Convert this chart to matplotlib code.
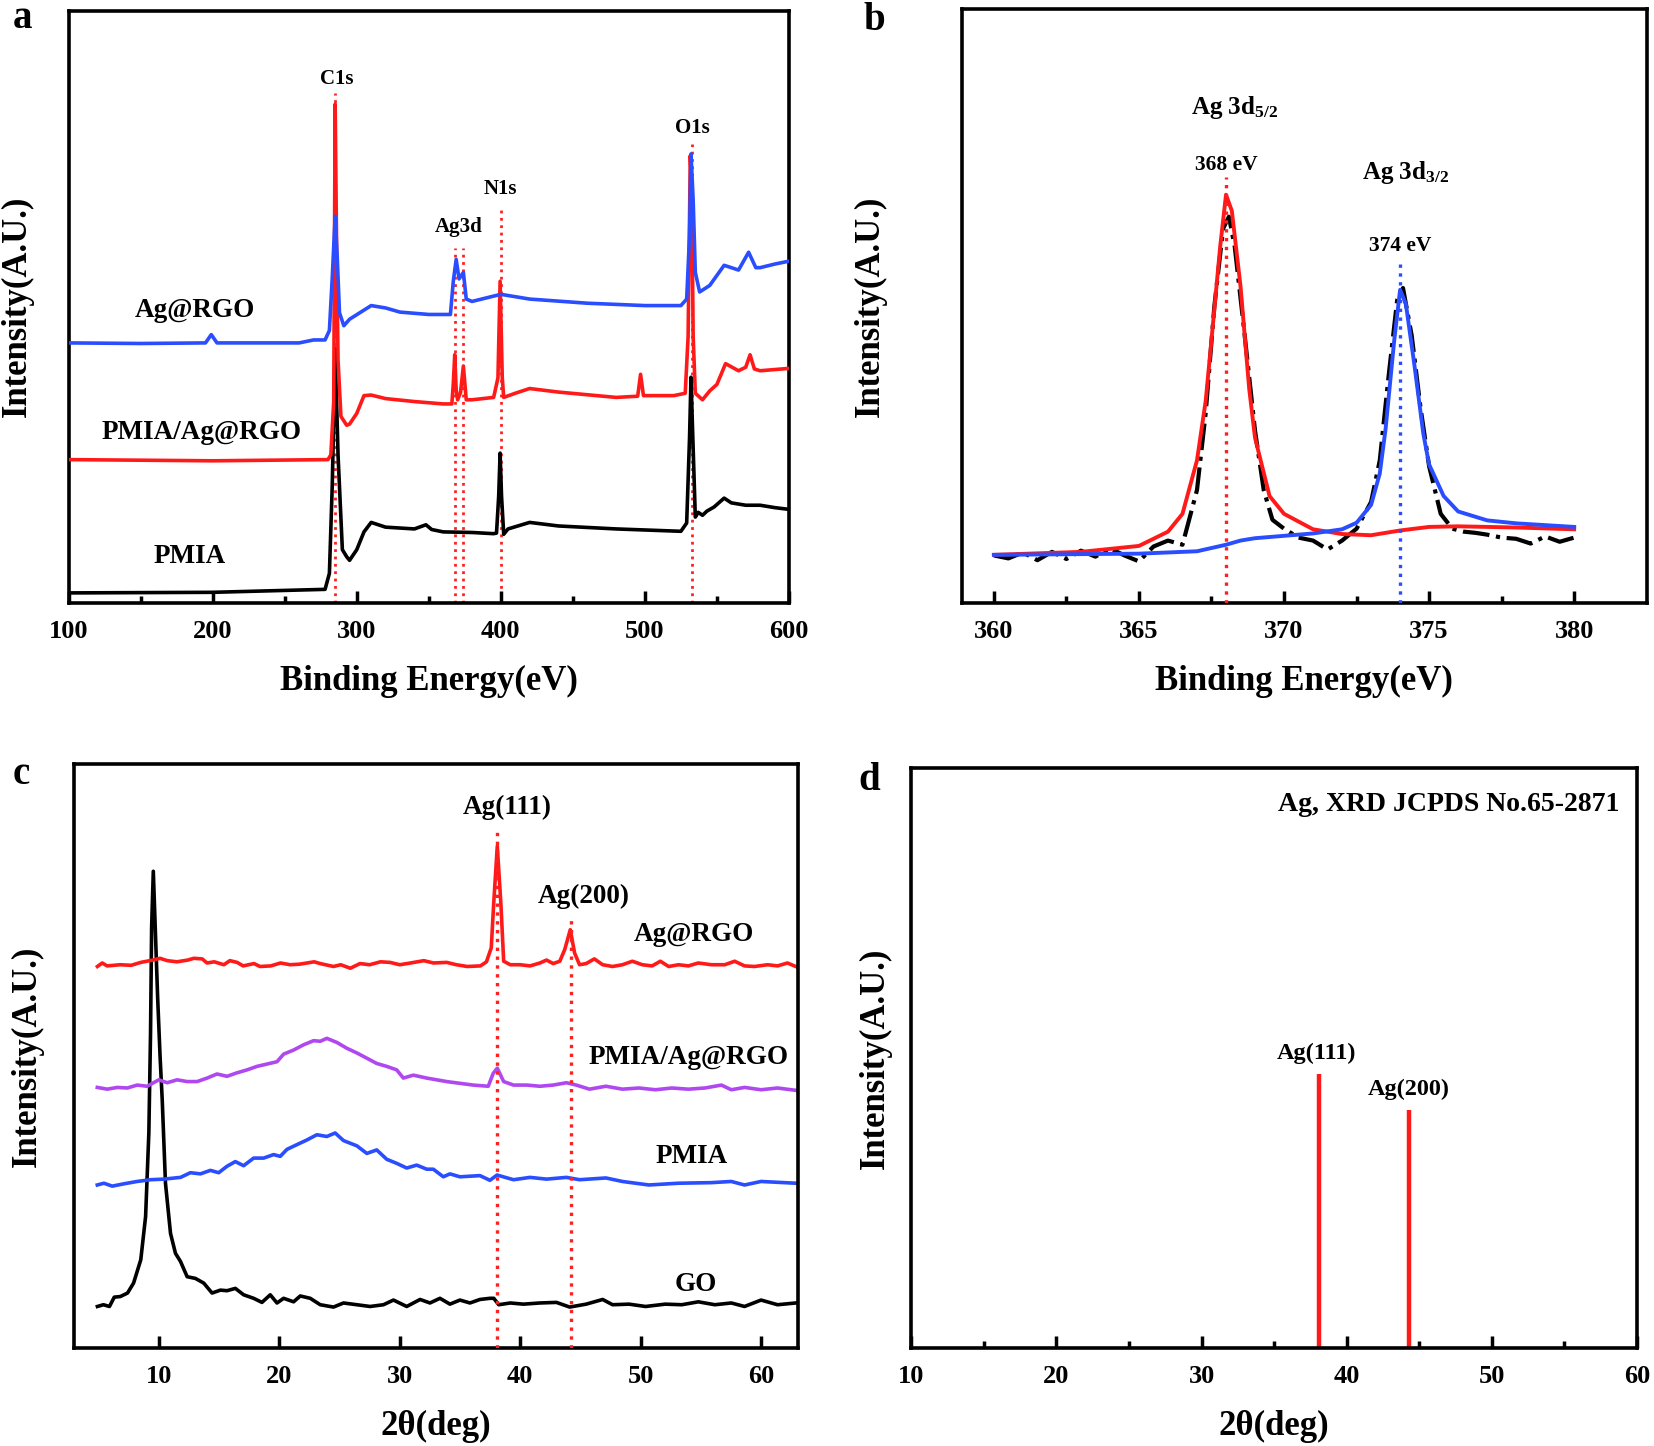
import matplotlib
matplotlib.use("Agg")
import matplotlib.pyplot as plt
from matplotlib.ticker import FixedLocator, NullFormatter

plt.rcParams['font.family'] = ['Liberation Serif', 'DejaVu Serif']
plt.rcParams['font.weight'] = 'bold'
plt.rcParams['mathtext.default'] = 'regular'

# ---- panel a: XPS survey (y in % of axis height) ----
a_pmia_x = [100, 200, 278, 281, 283, 285, 287, 290, 293, 295, 300, 305, 310, 320, 340, 348, 352, 360, 380, 395,
            397, 398.5, 399.5, 400.5, 402, 405, 420, 440, 480, 525, 529, 531, 532, 533, 535, 537, 540, 543, 548,
            555, 560, 570, 580, 590, 600]
a_pmia_y = [1.7, 1.8, 2.3, 5, 20, 43, 25, 9, 7.8, 7.2, 9, 12, 13.6, 12.8, 12.5, 13.2, 12.4, 12.0, 11.9, 11.7,
            11.8, 18, 25.3, 18, 11.6, 12.5, 13.6, 13.0, 12.5, 12.1, 13.5, 28, 38.1, 30, 14.5, 15.3, 14.8, 15.5, 16.2,
            17.7, 16.9, 16.5, 16.5, 16.1, 15.8]
a_mix_x = [100, 200, 280, 282, 284, 285, 286, 287, 289, 293, 295, 300, 305, 310, 320, 340, 360, 366, 367, 368,
           369, 370, 372, 374, 376, 380, 395, 398, 399.5, 401, 402, 410, 420, 440, 480, 495, 497, 499, 520, 528,
           530, 531.5, 532.5, 533.5, 535, 540, 545, 550, 556, 565, 570, 573, 576, 580, 600]
a_mix_y = [24.2, 24.0, 24.2, 25, 34, 84.2, 60, 41, 31.5, 30.0, 30.2, 32, 35, 35.1, 34.5, 34.0, 33.6, 33.6, 37, 41.9,
           36, 34.3, 35.5, 40, 34.3, 34.3, 34.7, 38, 54.3, 38, 34.7, 35.4, 36.2, 35.6, 34.7, 34.9, 38.6, 35, 35.0, 35.4,
           45, 75.5, 70, 45, 35.4, 34.3, 35.8, 36.9, 40.4, 39.2, 39.8, 41.9, 39.5, 39.2, 39.6]
a_rgo_x = [100, 150, 195, 199, 203, 260, 270, 278, 281, 283, 285, 286.5, 288, 291, 295, 310, 320, 330, 350, 365,
           367, 369, 371, 374, 376, 380, 400, 420, 460, 500, 525, 529, 531, 532, 533.5, 535, 538, 545, 555, 565,
           572, 577, 580, 590, 600]
a_rgo_y = [43.9, 43.8, 43.9, 45.3, 43.9, 43.9, 44.4, 44.4, 46.0, 55, 65.3, 58, 49, 46.8, 47.9, 50.2, 49.8, 49.1, 48.7, 48.7,
           54.3, 58.0, 54.7, 55.8, 51.3, 50.9, 52.1, 51.3, 50.6, 50.2, 50.2, 51.3, 62, 75.8, 68, 55.8, 52.5, 53.6, 57.0, 56.2,
           59.2, 56.6, 56.6, 57.2, 57.7]
a_guides_x = [285, 368, 374, 400, 533]
a_guides_top = [86, 60, 60, 66.8, 77.4]
a_peak_labels = ['C1s', 'Ag3d', 'N1s', 'O1s']
a_peak_label_x = [286, 371, 400, 533]
a_peak_label_y = [88.4, 63.5, 69.8, 80.2]
a_series_labels = ['Ag@RGO', 'PMIA/Ag@RGO', 'PMIA']
a_series_label_x = [188, 192, 184]
a_series_label_y = [49.3, 28.7, 7.9]

# ---- panel b: Ag 3d high resolution ----
b_raw_x = [360, 360.5, 361, 361.5, 362, 362.5, 363, 363.5, 364, 364.5, 365, 365.5, 366, 366.5, 367, 367.3, 367.6,
           367.9, 368.1, 368.3, 368.6, 369, 369.3, 369.6, 370, 370.5, 371, 371.5, 372, 372.5, 373, 373.3, 373.6,
           373.9, 374.1, 374.4, 374.7, 375, 375.4, 375.8, 376.2, 376.6, 377, 377.5, 378, 378.5, 379, 379.5, 380]
b_raw_y = [8.0, 7.5, 8.5, 7.2, 8.6, 7.4, 8.8, 7.8, 9.2, 8.0, 7.0, 9.5, 10.5, 9.8, 19, 32, 50,
           63, 65, 60, 47, 29, 19, 14, 12.5, 11, 10.5, 9.0, 10.5, 12.5, 17, 24, 38,
           51, 53, 45, 33, 23, 15, 12.5, 12, 11.8, 11.5, 11, 10.8, 10, 11.2, 10.3, 11.0]
b_fit1_x = [360, 363, 365, 366, 366.5, 367, 367.3, 367.5, 367.8, 368, 368.2, 368.5, 368.8, 369, 369.5, 370, 371,
            372, 373, 374, 375, 376, 378, 380]
b_fit1_y = [8.1, 8.6, 9.6, 12, 15, 24, 34, 44.3, 60, 68.7, 66, 53.3, 36, 27.8, 18, 15, 12.4,
            11.6, 11.4, 12.2, 12.8, 12.9, 12.7, 12.4]
b_fit2_x = [360, 365, 367, 368, 368.5, 369, 370, 371, 372, 372.5, 373, 373.3, 373.5, 373.8, 374, 374.2, 374.5,
            374.8, 375, 375.5, 376, 377, 378, 379, 380]
b_fit2_y = [8.1, 8.3, 8.7, 9.8, 10.5, 10.9, 11.3, 11.7, 12.4, 13.5, 16.5, 21.8, 29.3, 44.3, 52.7, 50.3, 39.8,
            28.5, 23.3, 18, 15.4, 13.9, 13.4, 13.1, 12.8]
b_guides_x = [368, 374]
b_guides_top = [71.7, 57]

# ---- panel c: XRD ----
c_go_x = [4.9, 5.4, 5.9, 6.3, 6.8, 7.4, 7.9, 8.5, 8.9, 9.17, 9.31, 9.4, 9.54, 9.7, 9.9, 10.1, 10.28, 10.55, 10.97,
          11.38, 11.8, 12.35, 13.04, 13.73, 14.42, 15.11, 15.66, 16.35, 17.04, 17.87, 18.56, 19.25, 19.81, 20.36,
          21.19, 21.74, 22.57, 23.4, 24.5, 25.33, 26.44, 27.54, 28.65, 29.48, 30.58, 31.69, 32.51, 33.34, 34.17,
          35.0, 35.83, 36.66, 37.49, 37.81, 38.22, 39.18, 40.27, 41.64, 43.01, 44.11, 45.48, 46.85, 47.67, 49.04,
          50.41, 52.05, 53.42, 54.79, 56.16, 57.53, 58.63, 60.0, 61.37, 62.88]
c_go_y = [7.1, 7.4, 7.1, 8.7, 8.8, 9.4, 11.1, 15.1, 22.5, 36.8, 53.9, 72, 81.6, 72, 60, 50, 42.5, 28.2, 19.6,
          16.2, 14.8, 12.2, 11.9, 11.1, 9.4, 9.9, 9.8, 10.2, 9.1, 8.5, 7.8, 9.1, 7.7, 8.5,
          7.9, 8.9, 8.5, 7.4, 7.0, 7.7, 7.4, 7.1, 7.4, 8.2, 7.1, 8.3, 7.7, 8.5, 7.5,
          8.2, 7.7, 8.3, 8.5, 8.5, 7.4, 7.7, 7.5, 7.7, 7.8, 7.0, 7.5, 8.3, 7.4, 7.5,
          7.1, 7.5, 7.4, 7.9, 7.4, 7.7, 7.1, 8.2, 7.4, 7.7]
c_pmia_x = [4.89, 5.44, 6.13, 7.1, 8.2, 9.31, 10.41, 11.8, 12.62, 13.45, 14.28, 14.97, 15.66, 16.35, 17.04, 17.87,
            18.7, 19.53, 20.08, 20.64, 21.46, 22.29, 23.12, 23.95, 24.64, 25.33, 26.44, 27.27, 28.09, 28.92, 29.75,
            30.58, 31.41, 32.24, 32.79, 33.62, 34.17, 35.0, 36.66, 37.49, 38.08, 39.45, 40.82, 42.19, 43.84, 44.93,
            47.12, 48.49, 50.68, 53.15, 55.89, 57.53, 58.63, 60.0, 62.88]
c_pmia_y = [27.9, 28.2, 27.7, 28.1, 28.5, 28.8, 28.9, 29.2, 30.0, 29.8, 30.4, 30.0, 31.1, 31.9, 31.2, 32.5,
            32.5, 33.1, 32.8, 34.0, 34.8, 35.6, 36.5, 36.2, 36.8, 35.5, 34.6, 33.3, 33.9, 32.3, 31.6,
            30.8, 31.3, 30.6, 30.6, 29.3, 29.8, 29.3, 29.5, 28.7, 29.6, 28.8, 29.2, 28.9, 29.2, 28.8,
            29.1, 28.5, 27.9, 28.2, 28.3, 28.5, 27.9, 28.5, 28.2]
c_mix_x = [4.89, 5.72, 6.55, 7.38, 8.2, 9.03, 10.0, 10.69, 11.52, 12.35, 13.18, 14.01, 14.83, 15.66, 16.49, 17.32,
           18.15, 18.98, 19.81, 20.36, 21.19, 22.02, 22.85, 23.4, 23.95, 24.78, 25.61, 26.44, 27.27, 28.09, 28.92,
           29.75, 30.3, 31.13, 32.24, 33.07, 33.9, 35.0, 36.1, 37.35, 37.76, 38.1, 38.63, 39.45, 40.55, 41.64,
           42.74, 43.84, 44.66, 45.75, 47.12, 48.49, 49.86, 51.23, 52.6, 53.97, 55.34, 56.71, 57.53, 58.63, 60.0,
           61.37, 62.88]
c_mix_y = [44.6, 44.3, 44.6, 44.5, 45.0, 44.8, 45.9, 45.4, 45.9, 45.6, 45.6, 46.2, 46.9, 46.5, 47.1, 47.6,
           48.2, 48.6, 49.0, 50.3, 51.0, 51.9, 52.6, 52.5, 53.0, 52.3, 51.3, 50.5, 49.6, 48.7, 48.2,
           47.6, 46.2, 46.7, 46.2, 45.9, 45.6, 45.3, 45.0, 44.8, 47.0, 47.9, 45.6, 45.0, 45.0, 44.8,
           45.0, 45.4, 45.0, 44.3, 44.8, 44.3, 44.5, 44.2, 44.5, 44.3, 44.5, 45.0, 44.2, 44.6, 44.2,
           44.5, 44.1]
c_rgo_x = [4.9, 5.3, 5.7, 6.8, 7.7, 8.5, 9.5, 10.1, 10.7, 11.5, 12.4, 12.9, 13.6, 14.0, 14.6, 15.4, 15.9, 16.5,
           17.0, 17.9, 18.4, 19.3, 20.1, 20.9, 21.7, 22.9, 23.4, 24.5, 25.1, 25.9, 26.7, 27.5, 28.4, 29.2, 30.0,
           30.9, 32.0, 32.8, 33.9, 34.7, 35.6, 36.7, 37.2, 37.6, 37.8, 38.1, 38.4, 38.63, 39.18, 40.0, 40.82,
           41.64, 42.19, 42.74, 43.29, 43.7, 44.16, 44.52, 44.93, 45.48, 46.16, 46.85, 47.67, 48.49, 49.32, 50.14,
           50.96, 51.64, 52.33, 53.15, 53.97, 54.79, 55.89, 56.99, 57.81, 58.63, 59.45, 60.55, 61.37, 62.19, 62.88]
c_rgo_y = [65.3, 65.9, 65.4, 65.6, 65.5, 66.0, 66.4, 66.7, 66.3, 66.1, 66.4, 66.7, 66.6, 65.9, 66.1, 65.6, 66.3, 66.0,
           65.4, 65.8, 65.3, 65.4, 65.9, 65.6, 65.7, 66.1, 65.8, 65.3, 65.6, 65.0, 65.8, 65.6, 66.1, 66.0, 65.6,
           65.9, 66.3, 65.9, 66.0, 65.6, 65.3, 65.4, 66.1, 68.5, 76, 85.9, 76, 66.2, 65.6, 65.6, 65.4,
           65.9, 66.4, 65.8, 66.2, 68.2, 71.6, 67.6, 65.6, 65.8, 66.6, 65.6, 65.3, 65.6, 66.2, 65.6,
           65.4, 66.2, 65.3, 65.6, 65.4, 65.9, 65.6, 65.6, 66.2, 65.4, 65.3, 65.6, 65.4, 65.9, 65.3]
c_guides_x = [38.1, 44.2]
c_guides_top = [89, 73.6]
c_series_labels = ['Ag@RGO', 'PMIA/Ag@RGO', 'PMIA', 'GO']
c_series_label_x = [54.4, 54.0, 54.2, 54.6]
c_series_label_y = [70.8, 49.8, 32.8, 10.8]

# ---- panel d: JCPDS reference ----
d_pos = [38.1, 44.3]
d_int = [47.2, 41.0]
d_labels = ['Ag(111)', 'Ag(200)']
d_label_x = [37.9, 44.3]
d_label_y = [50.8, 44.6]

fig = plt.figure(figsize=(16.54, 14.46), dpi=100)

def style(ax, xlim, majors, minors, xlabel, xpad, ypad):
    ax.set_xlim(*xlim)
    ax.set_ylim(0, 100)
    ax.set_yticks([])
    ax.xaxis.set_major_locator(FixedLocator(majors))
    ax.xaxis.set_minor_locator(FixedLocator(minors))
    ax.xaxis.set_minor_formatter(NullFormatter())
    ax.tick_params(axis='x', which='major', direction='in', length=9, width=2.5, labelsize=19, pad=12)
    ax.tick_params(axis='x', which='minor', direction='in', length=5, width=2.5)
    for s in ax.spines.values():
        s.set_linewidth(2.6)
    ax.set_xlabel(xlabel, fontsize=25, fontweight='bold', labelpad=xpad)
    ax.set_ylabel('Intensity(A.U.)', fontsize=25, fontweight='bold', labelpad=ypad)
    for t in ax.get_xticklabels():
        t.set_fontweight('bold')

# a
ax = fig.add_axes([0.0415, 0.583, 0.4355, 0.4097])
for gx, gt in zip(a_guides_x, a_guides_top):
    ax.plot([gx, gx], [0, gt], color='#ff2020', ls=':', lw=2, zorder=1)
ax.plot(a_pmia_x, a_pmia_y, color='black', lw=2.6, zorder=2)
ax.plot(a_mix_x, a_mix_y, color='#ff1a1a', lw=2.6, zorder=3)
ax.plot(a_rgo_x, a_rgo_y, color='#2a4dff', lw=2.6, zorder=4)
for t, x, y in zip(a_peak_labels, a_peak_label_x, a_peak_label_y):
    ax.text(x, y, t, fontsize=15, fontweight='bold', ha='center', va='center')
for t, x, y in zip(a_series_labels, a_series_label_x, a_series_label_y):
    ax.text(x, y, t, fontsize=19.5, fontweight='bold', ha='center', va='center')
style(ax, (100, 600), list(range(100, 601, 100)), list(range(150, 600, 100)), 'Binding Energy(eV)', 16, 25)

# b
ax = fig.add_axes([0.5816, 0.583, 0.414, 0.411])
ax.plot(b_raw_x, b_raw_y, color='black', lw=3, ls='-.', zorder=2)
ax.plot(b_fit1_x, b_fit1_y, color='#ff1a1a', lw=2.8, zorder=3)
ax.plot(b_fit2_x, b_fit2_y, color='#2a4dff', lw=2.8, zorder=4)
ax.plot([b_guides_x[0]] * 2, [0, b_guides_top[0]], color='#ff2020', ls=':', lw=2.4, zorder=5)
ax.plot([b_guides_x[1]] * 2, [0, b_guides_top[1]], color='#2a4dff', ls=':', lw=2.4, zorder=5)
ax.text(368.3, 83.3, r'Ag 3d$_{5/2}$', fontsize=18, fontweight='bold', ha='center', va='center')
ax.text(368.0, 73.7, '368 eV', fontsize=15.5, fontweight='bold', ha='center', va='center')
ax.text(374.2, 72.4, r'Ag 3d$_{3/2}$', fontsize=18, fontweight='bold', ha='center', va='center')
ax.text(374.0, 60.0, '374 eV', fontsize=15.5, fontweight='bold', ha='center', va='center')
style(ax, (358.9, 382.5), [360, 365, 370, 375, 380], [362.5, 367.5, 372.5, 377.5], 'Binding Energy(eV)', 16, 54)

# c
ax = fig.add_axes([0.0447, 0.0678, 0.438, 0.404])
for gx, gt in zip(c_guides_x, c_guides_top):
    ax.plot([gx, gx], [0, gt], color='#ff2020', ls=':', lw=2.4, zorder=5)
ax.plot(c_go_x, c_go_y, color='black', lw=2.6)
ax.plot(c_pmia_x, c_pmia_y, color='#2a4dff', lw=2.6)
ax.plot(c_mix_x, c_mix_y, color='#b048f0', lw=2.6)
ax.plot(c_rgo_x, c_rgo_y, color='#ff1a1a', lw=2.6)
ax.text(38.9, 92.6, 'Ag(111)', fontsize=19.5, fontweight='bold', ha='center', va='center')
ax.text(45.3, 77.3, 'Ag(200)', fontsize=19.5, fontweight='bold', ha='center', va='center')
for t, x, y in zip(c_series_labels, c_series_label_x, c_series_label_y):
    ax.text(x, y, t, fontsize=19.5, fontweight='bold', ha='center', va='center')
style(ax, (2.95, 63.1), list(range(10, 61, 10)), [], '2θ(deg)', 16, 22)

# d
ax = fig.add_axes([0.551, 0.0678, 0.4386, 0.401])
ax.vlines(d_pos, 0, d_int, color='#ff1a1a', lw=3.2)
for t, x, y in zip(d_labels, d_label_x, d_label_y):
    ax.text(x, y, t, fontsize=17.5, fontweight='bold', ha='center', va='center')
ax.text(58.8, 93.8, 'Ag, XRD JCPDS No.65-2871', fontsize=20, fontweight='bold', ha='right', va='center')
style(ax, (10, 60), list(range(10, 61, 10)), list(range(15, 60, 10)), '2θ(deg)', 16, 14)

for t, x, y in [('a', 13, 19), ('b', 863, 21), ('c', 13, 775), ('d', 858, 781)]:
    fig.text(x / 1654, 1 - y / 1446, t, fontsize=28, fontweight='bold', ha='left', va='center')

fig.savefig('out.png', dpi=100)
